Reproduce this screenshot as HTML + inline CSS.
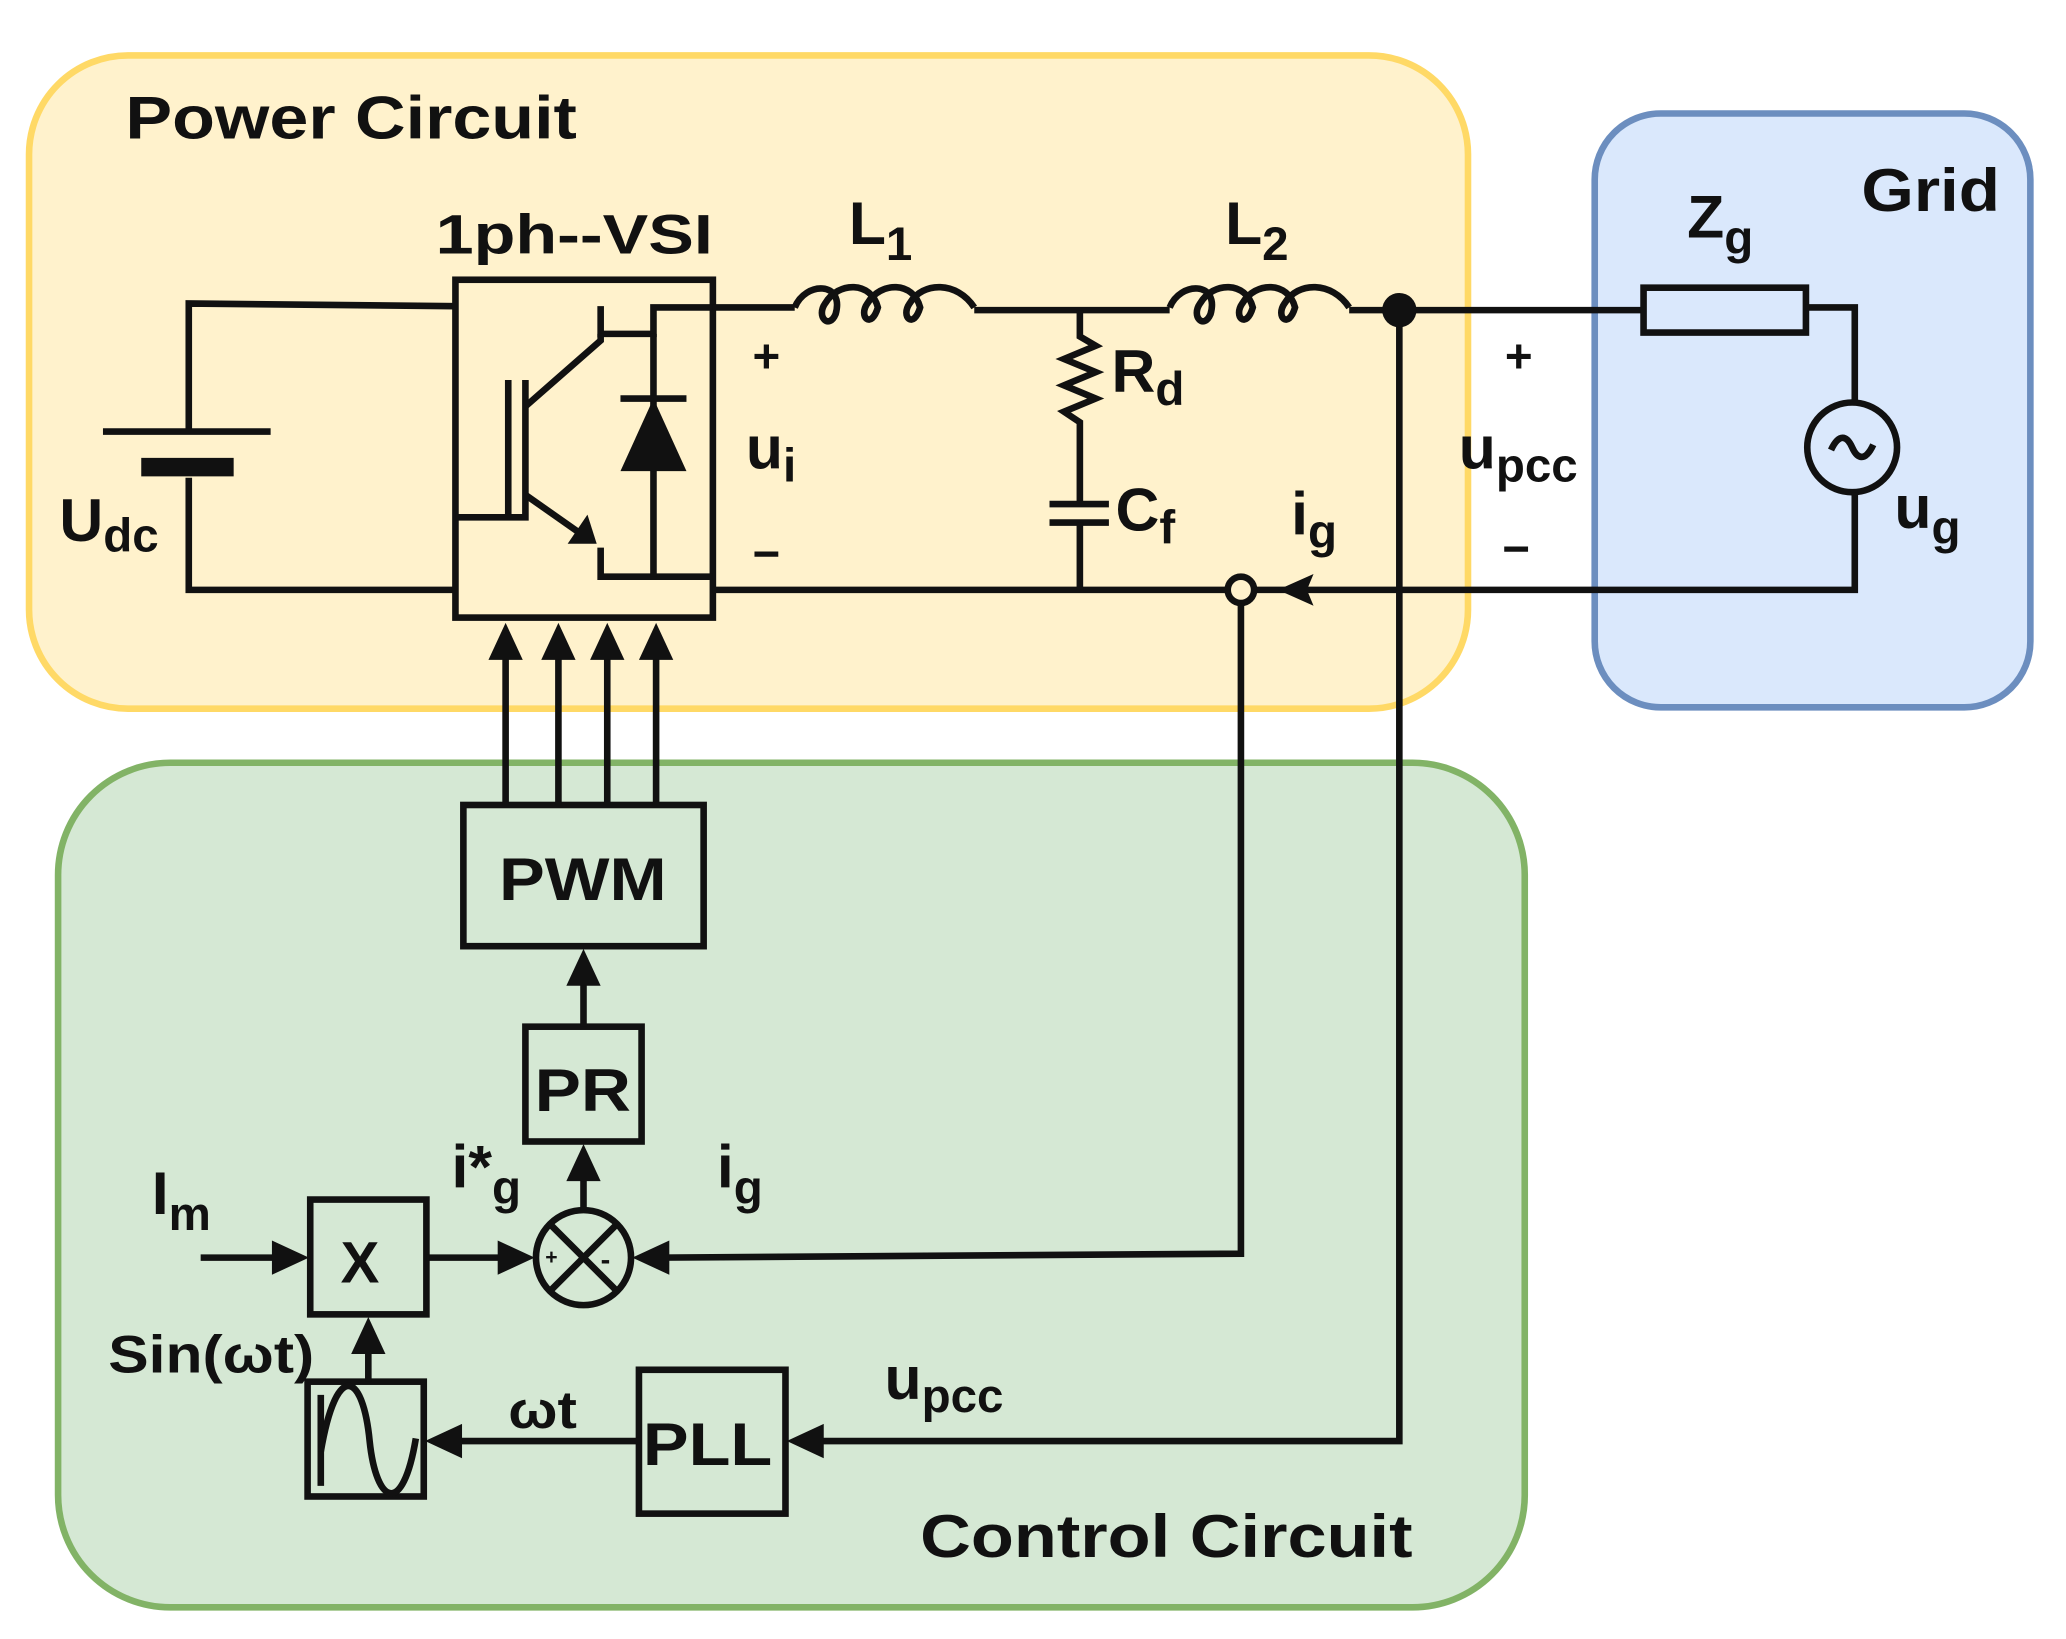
<!DOCTYPE html>
<html><head><meta charset="utf-8"><style>
html,body{margin:0;padding:0;background:#fff}
svg{display:block}
text{font-family:"Liberation Sans","DejaVu Sans",sans-serif;font-weight:bold;fill:#111}
</style></head><body>
<svg width="2066" height="1639" viewBox="0 0 1565 1242" preserveAspectRatio="none" xmlns="http://www.w3.org/2000/svg">
<rect x="22" y="42" width="1090" height="495" rx="75" fill="#fff2cc" stroke="#ffd966" stroke-width="5"/>
<rect x="1208" y="86" width="330" height="450" rx="50" fill="#dae8fc" stroke="#6c8ebf" stroke-width="5"/>
<rect x="44" y="578" width="1111" height="640" rx="85" fill="#d5e8d4" stroke="#82b366" stroke-width="5"/>

<text x="95" y="105" font-size="46" textLength="342" lengthAdjust="spacingAndGlyphs">Power Circuit</text>
<text x="1410" y="160" font-size="46" textLength="105" lengthAdjust="spacingAndGlyphs">Grid</text>
<text x="697" y="1180" font-size="46" textLength="373" lengthAdjust="spacingAndGlyphs">Control Circuit</text>
<text x="330" y="192" font-size="42" textLength="210" lengthAdjust="spacingAndGlyphs">1ph--VSI</text>

<g fill="none" stroke="#111" stroke-width="5">
<polyline points="345,232 143,230 143,327"/>
<line x1="78" y1="327" x2="205" y2="327"/>
<line x1="107" y1="354" x2="177" y2="354" stroke-width="14"/>
<polyline points="143,362 143,447 345,447"/>
<rect x="345" y="212" width="195" height="256"/>
<line x1="385" y1="288" x2="385" y2="392"/>
<polyline points="345,392 398,392 398,288"/>
<polyline points="540,233 495,233 495,253 455,253 455,232"/>
<polyline points="455,253 455,258 398,308"/>
<polyline points="398,375 445,408"/>
<polyline points="540,437 495,437 455,437 455,415"/>
<line x1="495" y1="253" x2="495" y2="437"/>
<line x1="470" y1="302" x2="520" y2="302"/>
<line x1="540" y1="233" x2="602" y2="233"/>
<path d="M602,233 C610,213 640,213 633,238 C628,250 618,240 625,230 C635,213 660,213 665,233 C660,250 650,240 657,230 C667,213 692,213 697,233 C692,250 682,240 689,230 C699,213 725,213 738,233"/>
<line x1="738" y1="235" x2="886" y2="235"/>
<path d="M886,233 C894,213 924,213 917,238 C912,250 902,240 909,230 C919,213 944,213 949,233 C944,250 934,240 941,230 C951,213 976,213 981,233 C976,250 966,240 973,230 C983,213 1009,213 1022,233"/>
<line x1="1022" y1="235" x2="1245" y2="235"/>
<rect x="1245" y="218" width="123" height="34"/>
<polyline points="1368,233 1405,233 1405,305"/>
<circle cx="1403" cy="339" r="34"/>
<path d="M1387,341 C1393,328 1399,330 1403,339 C1407,348 1413,350 1419,337"/>
<polyline points="1405,373 1405,447 950,447"/>
<line x1="930" y1="447" x2="540" y2="447"/>
<polyline points="818,235 818,255 830,262 806,272 830,282 806,292 830,302 806,312 818,320 818,382"/>
<line x1="795" y1="382" x2="840" y2="382"/>
<line x1="795" y1="396" x2="840" y2="396"/>
<line x1="818" y1="396" x2="818" y2="447"/>
<circle cx="940" cy="447" r="10"/>
<polyline points="940,457 940,950 500,953"/>
<polyline points="1060,235 1060,1092 615,1092"/>
<rect x="351" y="610" width="182" height="107"/>
<rect x="398" y="778" width="88" height="87"/>
<rect x="235" y="909" width="88" height="87"/>
<rect x="233" y="1047" width="88" height="87"/>
<rect x="484" y="1038" width="111" height="109"/>
<circle cx="442" cy="953" r="36"/>
<line x1="417" y1="928" x2="467" y2="978"/>
<line x1="467" y1="928" x2="417" y2="978"/>
<line x1="383" y1="610" x2="383" y2="490"/>
<line x1="423" y1="610" x2="423" y2="490"/>
<line x1="460" y1="610" x2="460" y2="490"/>
<line x1="497" y1="610" x2="497" y2="490"/>
<line x1="442" y1="778" x2="442" y2="738"/>
<line x1="442" y1="917" x2="442" y2="885"/>
<line x1="152" y1="953" x2="215" y2="953"/>
<line x1="323" y1="953" x2="386" y2="953"/>
<line x1="279" y1="1047" x2="279" y2="1016"/>
<line x1="484" y1="1092" x2="341" y2="1092"/>
<line x1="243" y1="1057" x2="243" y2="1126"/>
<path d="M243,1100 C255,1030 275,1040 280,1092 C285,1140 305,1150 315,1090"/>
</g>
<g fill="#111">
<circle cx="1060" cy="235" r="13"/>
<polygon points="470,357 520,357 495,302"/>
<polygon points="452,412 430,412 445,390"/>
<polygon points="968,447 995,435 990,447 995,459"/>
<polygon points="383,472 370,500 396,500"/>
<polygon points="423,472 410,500 436,500"/>
<polygon points="460,472 447,500 473,500"/>
<polygon points="497,472 484,500 510,500"/>
<polygon points="442,719 429,747 455,747"/>
<polygon points="442,867 429,895 455,895"/>
<polygon points="234,953 206,940 206,966"/>
<polygon points="405,953 377,940 377,966"/>
<polygon points="479,953 507,940 507,966"/>
<polygon points="279,998 266,1026 292,1026"/>
<polygon points="322,1092 350,1079 350,1105"/>
<polygon points="596,1092 624,1079 624,1105"/>
</g>
<g font-size="46">
<text x="45" y="410">U<tspan font-size="36" dy="8">dc</tspan></text>
<text x="565" y="355">u<tspan font-size="36" dy="10">i</tspan></text>
<text x="570" y="282" font-size="36">+</text>
<text x="570" y="432" font-size="36">−</text>
<text x="643" y="185">L<tspan font-size="36" dy="12">1</tspan></text>
<text x="928" y="185">L<tspan font-size="36" dy="12">2</tspan></text>
<text x="842" y="297">R<tspan font-size="36" dy="10">d</tspan></text>
<text x="845" y="402">C<tspan font-size="36" dy="10">f</tspan></text>
<text x="978" y="405">i<tspan font-size="36" dy="10">g</tspan></text>
<text x="1140" y="282" font-size="36">+</text>
<text x="1105" y="355">u<tspan font-size="36" dy="10">pcc</tspan></text>
<text x="1138" y="428" font-size="36">−</text>
<text x="1278" y="180">Z<tspan font-size="36" dy="12">g</tspan></text>
<text x="1435" y="400">u<tspan font-size="36" dy="12">g</tspan></text>
<text x="378" y="682" font-size="46" textLength="127" lengthAdjust="spacingAndGlyphs">PWM</text>
<text x="405" y="842" font-size="46" textLength="73" lengthAdjust="spacingAndGlyphs">PR</text>
<text x="487" y="1110" font-size="46" textLength="98" lengthAdjust="spacingAndGlyphs">PLL</text>
<text x="258" y="972" font-size="44" font-weight="normal">X</text>
<text x="115" y="920">I<tspan font-size="36" dy="12">m</tspan></text>
<text x="342" y="900">i*<tspan font-size="36" dy="12">g</tspan></text>
<text x="543" y="900">i<tspan font-size="36" dy="12">g</tspan></text>
<text x="82" y="1040" font-size="40" textLength="156" lengthAdjust="spacingAndGlyphs">Sin(ωt)</text>
<text x="385" y="1082" font-size="40" textLength="52" lengthAdjust="spacingAndGlyphs">ωt</text>
<text x="670" y="1060">u<tspan font-size="36" dy="10">pcc</tspan></text>
<text x="413" y="958" font-size="16">+</text>
<text x="455" y="962" font-size="22">-</text>
</g>
</svg>
</body></html>
